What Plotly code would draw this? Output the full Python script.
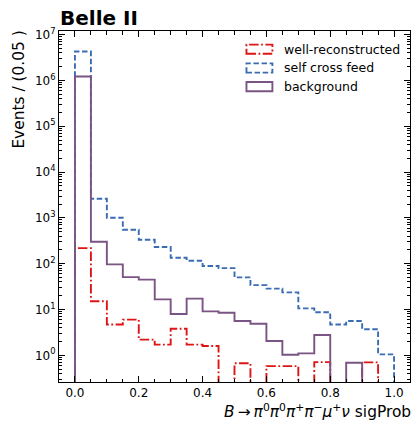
import numpy as np
import plotly.graph_objects as go

# Binning of the signal probability (20 bins of width 0.05)
bin_edges = [round(0.05 * i, 2) for i in range(21)]

# Event counts per bin
well_reconstructed = [219, 15.1, 4.7, 6.0, 2.2, 1.71, 3.8, 1.71, 1.59, 0,
                      0.67, 0, 0.58, 0.58, 0, 0.71, 0, 0, 0.70, 0]
self_cross_feed = [4.3e6, 2620, 1010, 552, 334, 231, 135, 116, 88.7, 80,
                   50.3, 34.1, 28.5, 23.7, 10.6, 8.7, 4.7, 5.6, 3.7, 1.05]
background = [1.22e6, 302, 96.6, 51, 44.8, 16.6, 7.96, 17.3, 9.1, 8.5,
              5.6, 4.9, 2.05, 1.03, 1.1, 2.77, 0, 0.69, 0, 0]

series_names = ["well-reconstructed", "self cross feed", "background"]
series_colors = ["#dd1515", "#3a6cb4", "#7a5484"]
series_dashes = ["9.5px,2.5px,1.8px,2.5px", "5.5px,2.6px", "solid"]

x_tick_values = [0.0, 0.2, 0.4, 0.6, 0.8, 1.0]
y_decades = list(range(0, 8))

FONT = "DejaVu Sans"
W, H = 413, 425
L, R, T, B = 58.5, 410.5, 30.5, 381.7


def px_to_paper(px, py):
    return (px - L) / (R - L), (B - py) / (B - T)


def step_outline(edges, counts, floor=1e-4):
    """Outline of a step histogram; empty bins fall below the log axis."""
    xs, ys = [edges[0]], [floor]
    for i, c in enumerate(counts):
        v = c if c > 0 else floor
        xs += [edges[i], edges[i + 1]]
        ys += [v, v]
    xs.append(edges[-1])
    ys.append(floor)
    return xs, ys


fig = go.Figure()
for counts, name, color, dash in zip(
    [well_reconstructed, self_cross_feed, background],
    series_names, series_colors, series_dashes,
):
    xs, ys = step_outline(bin_edges, counts)
    fig.add_trace(go.Scatter(
        x=xs, y=ys, mode="lines", name=name, showlegend=False,
        line=dict(color=color, width=1.9, dash=dash, simplify=False),
        hoverinfo="skip",
    ))

# Hand-drawn legend with rectangular patch handles
legend_rows = [48.7, 67.5, 86.2]
shapes = []
annotations = []
for row_y, name, color, dash in zip(legend_rows, series_names, series_colors, series_dashes):
    x0, y0 = px_to_paper(246.5, row_y + 4.6)
    x1, y1 = px_to_paper(272.5, row_y - 4.6)
    shapes.append(dict(type="rect", xref="paper", yref="paper",
                       x0=x0, y0=y0, x1=x1, y1=y1,
                       line=dict(color=color, width=1.9, dash=dash)))
    tx, ty = px_to_paper(282.5, row_y)
    annotations.append(dict(xref="paper", yref="paper", x=tx, y=ty,
                            xanchor="left", yanchor="middle", showarrow=False,
                            text=name, font=dict(family=FONT, size=12.5, color="black")))

# Experiment label
tx, ty = px_to_paper(57.5, 17.0)
annotations.append(dict(xref="paper", yref="paper", x=tx, y=ty,
                        xanchor="left", yanchor="middle", showarrow=False,
                        text="<b>Belle II</b>", font=dict(family=FONT, size=20, color="black")))

# Axis titles, aligned to the top / right ends of the axes
tx, ty = px_to_paper(18, 28.5)
annotations.append(dict(xref="paper", yref="paper", x=tx, y=ty,
                        xanchor="center", yanchor="top", showarrow=False, textangle=-90,
                        text="Events / (0.05 )", font=dict(family=FONT, size=15.4, color="black")))
tx, ty = px_to_paper(414, 411)
annotations.append(dict(xref="paper", yref="paper", x=tx, y=ty,
                        xanchor="right", yanchor="middle", showarrow=False,
                        text="<i>B</i>\u2009\u2192\u2009<i>\u03c0</i><sup>0</sup><i>\u03c0</i><sup>0</sup>"
                             "<i>\u03c0</i><sup>+</sup><i>\u03c0</i><sup>\u2212</sup>"
                             "<i>\u03bc</i><sup>+</sup><i>\u03bd</i> sigProb",
                        font=dict(family=FONT, size=15.4, color="black")))

y_minor = [k * 10.0 ** n for n in range(-1, 8) for k in range(2, 10)]

fig.update_layout(
    width=W, height=H,
    margin=dict(l=L, r=W - R, t=T, b=H - B, pad=0),
    paper_bgcolor="white", plot_bgcolor="white",
    font=dict(family=FONT, size=12, color="black"),
    shapes=shapes, annotations=annotations,
    xaxis=dict(
        range=[-0.05, 1.05], tickmode="array", tickvals=x_tick_values,
        ticktext=[f"{v:.1f}" for v in x_tick_values],
        ticks="inside", ticklen=6, tickwidth=1, tickcolor="black",
        minor=dict(tickmode="linear", tick0=0, dtick=0.05, ticks="inside",
                   ticklen=3.5, tickwidth=1, tickcolor="black", showgrid=False),
        showline=True, linecolor="black", linewidth=1, mirror="ticks",
        showgrid=False, zeroline=False,
        tickfont=dict(family=FONT, size=12, color="black"),
    ),
    yaxis=dict(
        type="log", range=[-0.583, 7.08], tickmode="array",
        tickvals=[10.0 ** d for d in y_decades],
        ticktext=[f"10<sup>{d}</sup>" for d in y_decades],
        ticks="inside", ticklen=6, tickwidth=1, tickcolor="black",
        minor=dict(tickmode="array", tickvals=y_minor, ticks="inside",
                   ticklen=3, tickwidth=1, tickcolor="black", showgrid=False),
        showline=True, linecolor="black", linewidth=1, mirror="ticks",
        showgrid=False, zeroline=False,
        tickfont=dict(family=FONT, size=12, color="black"),
    ),
)

fig.write_html("out.html")
